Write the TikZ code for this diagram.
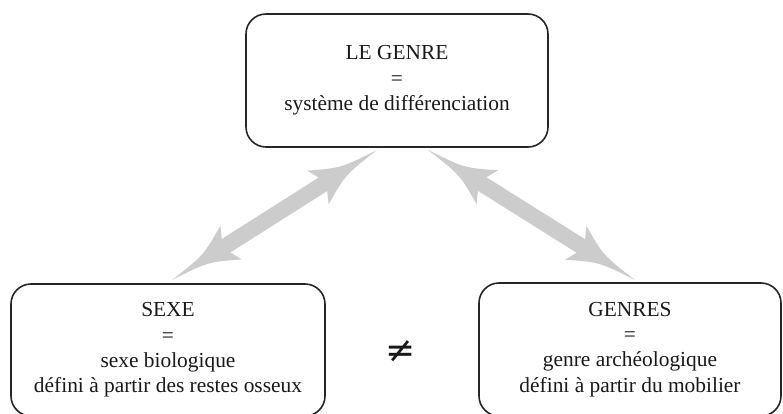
\documentclass[tikz,border=0pt]{standalone}
\usepackage{fontspec}
\setmainfont{Liberation Serif}
\newfontfamily\symbfont{DejaVu Sans}
\usetikzlibrary{calc}
\tikzset{
  box/.style={draw=black!85, line width=1.6pt, rounded corners=20pt, align=center,
    inner sep=0pt, text=black!90, font=\fontsize{21.4}{25.3}\selectfont},
  arrowfill/.style={fill=black!20, draw=none},
}
\newcommand\dblarr[3]{%
  \coordinate (#1c1) at ($(#2)!40pt!(#3)$);
  \coordinate (#1h1) at ($(#2)!70pt!(#3)$);
  \coordinate (#1j1) at ($(#2)!64pt!(#3)$);
  \coordinate (#1c2) at ($(#3)!40pt!(#2)$);
  \coordinate (#1h2) at ($(#3)!70pt!(#2)$);
  \coordinate (#1j2) at ($(#3)!64pt!(#2)$);
  \fill[arrowfill] (#2)
    .. controls ($(#1c1)!4pt!90:(#3)$) .. ($(#1h1)!20pt!90:(#3)$)
    -- ($(#1j1)!8pt!90:(#3)$)
    -- ($(#1j2)!8pt!-90:(#2)$)
    -- ($(#1h2)!20pt!-90:(#2)$)
    .. controls ($(#1c2)!4pt!-90:(#2)$) .. (#3)
    .. controls ($(#1c2)!4pt!90:(#2)$) .. ($(#1h2)!20pt!90:(#2)$)
    -- ($(#1j2)!8pt!90:(#2)$)
    -- ($(#1j1)!8pt!-90:(#3)$)
    -- ($(#1h1)!20pt!-90:(#3)$)
    .. controls ($(#1c1)!4pt!-90:(#3)$) .. (#2) -- cycle;
}
\begin{document}
\begin{tikzpicture}[x=1pt,y=-1pt]
  \useasboundingbox (0,0) rectangle (783,414);
  \node[box, minimum width=302pt, minimum height=133pt] (top) at (397,80.5)
    {LE GENRE\\=\\système de différenciation};
  \node[box, minimum width=314pt, minimum height=132pt] (sexe) at (168,350)
    {SEXE\\=\\sexe biologique\\défini à partir des restes osseux};
  \node[box, minimum width=302pt, minimum height=133pt] (genres) at (630,349.5)
    {GENRES\\=\\genre archéologique\\défini à partir du mobilier};
  \node[text=black!90, inner sep=0pt, font=\symbfont\fontsize{36}{36}\selectfont] (neq) at (401,352) {≠};
  \coordinate (la) at (172,280);
  \coordinate (lb) at (377,150);
  \coordinate (ra) at (428,150);
  \coordinate (rb) at (635,280);
  \dblarr{L}{la}{lb}
  \dblarr{R}{ra}{rb}
\end{tikzpicture}
\end{document}
